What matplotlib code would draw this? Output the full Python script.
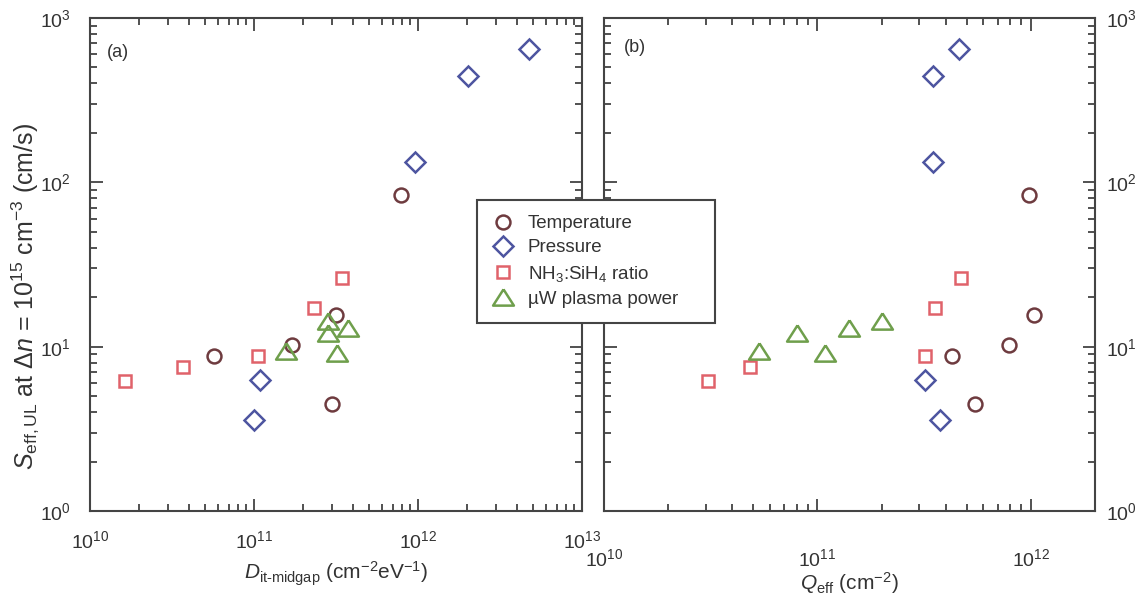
import matplotlib
matplotlib.use("Agg")
import matplotlib.pyplot as plt
from matplotlib.ticker import LogLocator, NullFormatter

plt.rcParams['font.family'] = ['Liberation Sans', 'DejaVu Sans']
plt.rcParams['mathtext.fontset'] = 'custom'
plt.rcParams['mathtext.rm'] = 'Liberation Sans'
plt.rcParams['mathtext.it'] = 'Liberation Sans:italic'
plt.rcParams['mathtext.bf'] = 'Liberation Sans:bold'

# S_eff,UL values (cm/s), same samples in both panels
temp_s = [8.8, 10.2, 15.5, 4.45, 84]
temp_dit = [5.7e10, 1.7e11, 3.15e11, 2.98e11, 7.9e11]
temp_q = [4.26e11, 7.94e11, 1.04e12, 5.46e11, 9.8e11]

pres_s = [6.3, 3.6, 133, 444, 646]
pres_dit = [1.09e11, 1.0e11, 9.6e11, 2.03e12, 4.75e12]
pres_q = [3.18e11, 3.76e11, 3.48e11, 3.48e11, 4.6e11]

nh3_s = [6.2, 7.5, 8.8, 17.1, 26.1]
nh3_dit = [1.63e10, 3.7e10, 1.06e11, 2.33e11, 3.45e11]
nh3_q = [3.07e10, 4.84e10, 3.18e11, 3.55e11, 4.72e11]

uw_s = [9.4, 14.4, 12.1, 13.0, 9.2]
uw_dit = [1.56e11, 2.84e11, 2.84e11, 3.76e11, 3.19e11]
uw_q = [5.35e10, 2.0e11, 8.0e10, 1.4e11, 1.08e11]

labels = ["Temperature", "Pressure", "NH$_3$:SiH$_4$ ratio", "\u00b5W plasma power"]
colors = ["#6e3b3f", "#4d55a0", "#e0626a", "#6f9f4c"]
tri = [(0, 0.78), (-1, -0.78), (1, -0.78), (0, 0.78)]
styles = [dict(marker="o", ms=10), dict(marker="D", ms=10),
          dict(marker="s", ms=9), dict(marker=tri, ms=15)]

fig = plt.figure(figsize=(11.36, 5.99), dpi=100)
ax1 = fig.add_axes([90/1136, 1-511/599, 492/1136, 493/599])
ax2 = fig.add_axes([604/1136, 1-511/599, 491/1136, 493/599])

tc = "#333333"
handles = []
for ax, xs in [(ax1, [temp_dit, pres_dit, nh3_dit, uw_dit]),
               (ax2, [temp_q, pres_q, nh3_q, uw_q])]:
    hs = []
    for x, y, c, st, lab in zip(xs, [temp_s, pres_s, nh3_s, uw_s], colors, styles, labels):
        h, = ax.plot(x, y, linestyle="none", mfc="none", mec=c, mew=1.8, label=lab, **st)
        hs.append(h)
    handles = hs
    ax.set_xscale("log")
    ax.set_yscale("log")
    ax.set_ylim(1, 1000)
    ax.xaxis.set_major_locator(LogLocator(base=10, numticks=10))
    ax.xaxis.set_minor_locator(LogLocator(base=10, subs=range(2, 10), numticks=10))
    ax.xaxis.set_minor_formatter(NullFormatter())
    ax.yaxis.set_minor_formatter(NullFormatter())
    ax.tick_params(which="both", direction="in", top=True, right=True, colors=tc,
                   labelsize=14, width=1.2)
    ax.tick_params(which="major", length=9)
    ax.tick_params(which="minor", length=5)
    for sp in ax.spines.values():
        sp.set_linewidth(1.5)
        sp.set_color("#444444")

ax1.set_xlim(1e10, 1e13)
ax2.set_xlim(1e10, 2e12)
ax2.yaxis.tick_right()
ax2.tick_params(which="both", left=True, right=True)
ax1.tick_params(axis="x", which="major", pad=14)
ax2.tick_params(axis="x", which="major", pad=27)
ax1.tick_params(axis="y", which="major", pad=14)
ax2.tick_params(axis="y", which="major", pad=8)

ax1.set_ylabel(r"$S_{\rm eff,UL}$ at $\Delta n$ = 10$^{15}$ cm$^{-3}$ (cm/s)",
               fontsize=18, color=tc)
ax1.yaxis.set_label_coords(-0.1, 0.436)
ax1.set_xlabel(r"$D_{\rm it\text{-}midgap}$ (cm$^{-2}$eV$^{-1}$)", fontsize=15, color=tc,
               labelpad=5)
ax2.set_xlabel(r"$Q_{\rm eff}$ (cm$^{-2}$)", fontsize=15, color=tc, labelpad=0)

ax1.text(0.035, 0.93, "(a)", transform=ax1.transAxes, fontsize=13, color=tc, va="center")
ax2.text(0.04, 0.94, "(b)", transform=ax2.transAxes, fontsize=13, color=tc, va="center")

leg = fig.legend(handles=handles, loc="upper left", mode="expand",
                 bbox_to_anchor=(477/1136, 1-315/599, 238/1136, 115/599), fontsize=13.5,
                 frameon=True, fancybox=False, framealpha=1, edgecolor="#444444",
                 handletextpad=0.7, borderpad=0.8, labelspacing=0.38,
                 handlelength=1.2, borderaxespad=0)
leg.get_frame().set_linewidth(1.5)
for t in leg.get_texts():
    t.set_color(tc)

fig.savefig("out.png", dpi=100)
